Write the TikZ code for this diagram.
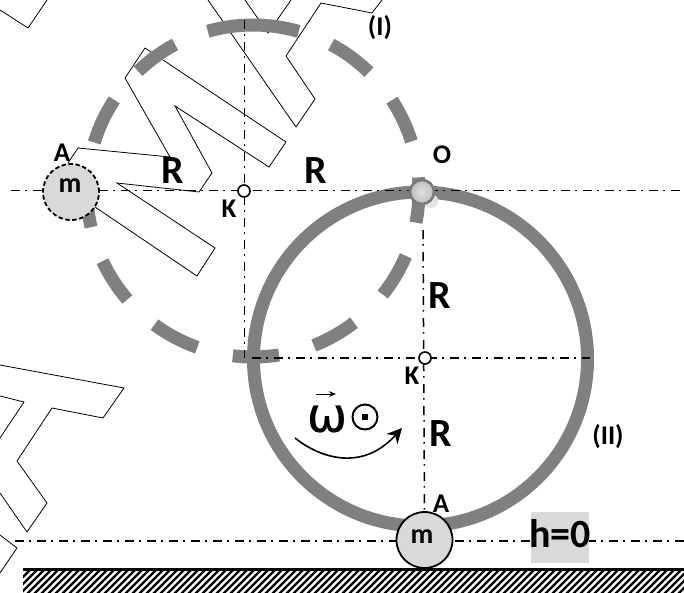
\documentclass[tikz,border=0pt]{standalone}
\usepackage{fontspec}
\setmainfont{Carlito}[BoldFont={* Bold}]
\newfontfamily\omegafont[FakeBold=0.4]{DejaVu Sans}
\usetikzlibrary{arrows.meta}
\definecolor{ringgray}{gray}{0.5}
\definecolor{massgray}{gray}{0.85}
\tikzset{
  x=1pt,y=-1pt,
  outline/.style={draw=black,line width=0.8pt,fill=white,line join=miter},
  ring/.style={draw=ringgray,line width=13pt},
  ringdash/.style={draw=ringgray,line width=13pt,line cap=butt},
  axis/.style={draw=black,line width=1.5pt,dash pattern=on 9pt off 5pt on 1.6pt off 6.4pt},
  mass/.style={circle,fill=massgray,draw=black,line width=1.8pt,minimum size=56pt,inner sep=0pt},
  pivot/.style={circle,fill=white,draw=black,line width=1.6pt,minimum size=12pt,inner sep=0pt},
  big/.style={font=\fontsize{40}{40}\selectfont\bfseries,inner sep=0pt},
  small/.style={font=\fontsize{27}{27}\selectfont\bfseries,inner sep=0pt},
}
\begin{document}
\begin{tikzpicture}
\useasboundingbox (0,0) rectangle (684,592);
\fill[white] (0,0) rectangle (684,592);
% watermark outlines
\begin{scope}
\clip (0,0) rectangle (684,592);
\draw[outline] (0,10) -- (28,28) -- (47,0);
\draw[outline] (68,163) -- (78,148) -- (170,157) -- (125,78) -- (145,48) -- (286,142) -- (269,167) -- (175,106) -- (212,173) -- (199,192) -- (117,183) -- (215,248) -- (197,276) -- (95,207);
\draw[outline] (208,0) -- (296,127) -- (315,99) -- (286,56) -- (321,3) -- (372,13) -- (382,0);
\draw[outline] (245,0) -- (268,33) -- (291,0);
\draw[outline] (0,365) -- (124,388) -- (103,418) -- (52,408) -- (17,461) -- (47,503) -- (27,532) -- (0,493);
\draw[outline] (0,396) -- (24,402) -- (0,438);
\draw[outline] (0,535) -- (17,548) -- (0,573);
\end{scope}
% ground
\begin{scope}
\clip (23,568.5) rectangle (684,592);
\foreach \k in {0,7,...,728}{
  \draw[black,line width=2.4pt] (\k,600) -- (\k+40,560);
}
\draw[black,line width=3.5pt] (23,569) -- (684,569);
\end{scope}
% centre lines
\coordinate (h1a) at (11,190.5); \coordinate (h1b) at (684,190.5);
\coordinate (v1a) at (244.5,20); \coordinate (v1b) at (244.5,358);
\coordinate (h2a) at (252,358); \coordinate (h2b) at (590,358);
\coordinate (v2a) at (423,230); \coordinate (v2b) at (424.5,512);
\coordinate (h3a) at (15,541); \coordinate (h3b) at (684,541);
% ring II
\draw[ring] (420.5,359) circle[radius=167];
% ring I, dashed
\foreach \a/\b in {105.8/74,61.9/45.7,33.2/17.4,4.7/-11,-23/-38.6,-52.5/-68.5,-81/-97,-109.6/-126.4,-139.2/-155,-167.4/-182,-197/-213.3,-226.2/-242}{
  \draw[ringdash] ({253+166*cos(\a)},{191-166*sin(\a)}) arc[start angle=\a,end angle=\b,x radius=166,y radius=-166];
}
\draw[axis] (h1a) -- (h1b);
\draw[axis] (v1a) -- (v1b);
\draw[axis] (h2a) -- (h2b);
\draw[axis] (v2a) -- (v2b);
\draw[axis] (h3a) -- (h3b);
% masses, pivots
\node[mass,dash pattern=on 4.5pt off 2.5pt] (m1) at (71,192) {};
\node[font=\fontsize{28}{28}\selectfont\bfseries,inner sep=0pt] (m1t) at (70,186) {m};
\node[mass] (m2) at (424.5,540) {};
\node[font=\fontsize{28}{28}\selectfont\bfseries,inner sep=0pt] (m2t) at (422,537) {m};
\fill[gray!22] (431,201) circle[radius=7];
\node[circle,draw=gray!95!black,line width=2.6pt,minimum size=24pt,inner sep=0pt,inner color=gray!25,outer color=gray!50] (O) at (422,192) {};
\node[pivot] (K1) at (244,191) {};
\node[pivot] (K2) at (425,358) {};
% labels
\node[big] (R1) at (173,171) {R};
\node[big] (R2) at (316,171) {R};
\node[big] (R3) at (440,296) {R};
\node[big] (R4) at (441,434) {R};
\node[small] (A1) at (62,153) {A};
\node[small] (A2) at (441,504) {A};
\node[small] (K1t) at (229,209) {K};
\node[small] (K2t) at (412,376) {K};
\node[small] (Ot) at (442,155) {O};
\node[small] (I) at (380,28) {(I)};
\node[small] (II) at (608,437) {(II)};
\node[fill=massgray,minimum width=58pt,minimum height=51pt,inner sep=0pt] (hbox) at (560,537.5) {};
\node[big] (h0) at (560,534) {h=0};
% omega
\node[inner sep=0pt,font=\fontsize{48}{48}\selectfont\omegafont] (om) at (327,419) {ω};
\coordinate (va) at (316,394); \coordinate (vb) at (336,394);
\draw[-{Stealth[length=7pt,width=5.5pt]},line width=0.9pt] (va) -- (vb);
\node[circle,draw=black,line width=2pt,minimum size=25pt,inner sep=0pt] (od) at (365,417) {};
\fill (362,414) rectangle (368,420);
% rotation arrow
\coordinate (c1) at (295,438); \coordinate (c2) at (402,428);
\draw[line width=1.6pt,-{Stealth[length=15pt,width=15pt]}] (c1) .. controls (320,458) and (362,472) .. (c2);
\end{tikzpicture}
\end{document}
